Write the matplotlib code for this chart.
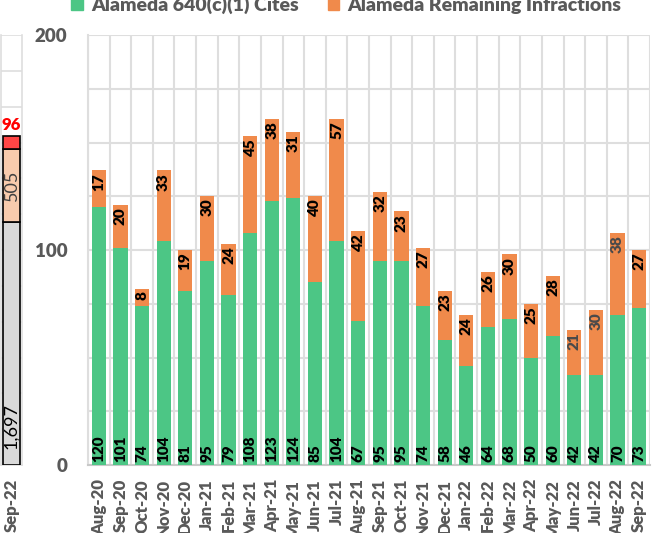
import matplotlib.pyplot as plt
import numpy as np
from matplotlib.patches import Patch

plt.rcParams['font.family'] = ['Lato', 'DejaVu Sans']
plt.rcParams['font.weight'] = 'bold'

months = ['Aug-20', 'Sep-20', 'Oct-20', 'Nov-20', 'Dec-20', 'Jan-21', 'Feb-21',
          'Mar-21', 'Apr-21', 'May-21', 'Jun-21', 'Jul-21', 'Aug-21', 'Sep-21',
          'Oct-21', 'Nov-21', 'Dec-21', 'Jan-22', 'Feb-22', 'Mar-22', 'Apr-22',
          'May-22', 'Jun-22', 'Jul-22', 'Aug-22', 'Sep-22']
cites = [120, 101, 74, 104, 81, 95, 79, 108, 123, 124, 85, 104, 67, 95, 95,
         74, 58, 46, 64, 68, 50, 60, 42, 42, 70, 73]
remaining = [17, 20, 8, 33, 19, 30, 24, 45, 38, 31, 40, 57, 42, 32, 23, 27,
             23, 24, 26, 30, 25, 28, 21, 30, 38, 27]

# cumulative side bar (latest month)
side_month = 'Sep-22'
side_values = [1697, 505, 96]
side_labels = ['1,697', '505', '96']

GREEN = '#4CC685'
ORANGE = '#F08A4B'
GRID = '#DEDEDE'
TICK = '#595959'
W8 = 'heavy'

fig = plt.figure(figsize=(6.53, 5.33), dpi=100)
H = 533.0
W = 653.0
bottom = (H - 465) / H
height = 430 / H

# ---- main chart ----
ax = fig.add_axes([88 / W, bottom, 562 / W, height])
x = np.arange(len(months))
ax.bar(x, cites, width=0.66, color=GREEN, zorder=3)
ax.bar(x, remaining, width=0.66, bottom=cites, color=ORANGE, zorder=3)

ax.set_xlim(-0.5, len(months) - 0.5)
ax.set_ylim(0, 200)
ax.set_yticks(np.arange(0, 201, 25))
ax.set_yticklabels([str(v) if v % 100 == 0 else '' for v in range(0, 201, 25)],
                   fontsize=13.5, color=TICK, fontweight=W8)
ax.set_xticks(x)
ax.set_xticklabels(months, rotation=90, fontsize=12, color=TICK,
                   fontweight=W8, va='top')
ax.tick_params(axis='both', length=0)
ax.tick_params(axis='x', pad=10)
ax.tick_params(axis='y', pad=15)
ax.grid(axis='y', color=GRID, lw=1.5, zorder=0)
for b in np.arange(-0.5, len(months), 1.0):
    ax.axvline(b, color=GRID, lw=1.5, zorder=0)
for s in ['top', 'right']:
    ax.spines[s].set_visible(False)
ax.spines['left'].set_color(GRID)
ax.spines['left'].set_linewidth(1.5)
ax.spines['bottom'].set_color('#C8C8C8')
ax.spines['bottom'].set_linewidth(1.5)

gray_lbls = {'Jun-22', 'Jul-22', 'Aug-22'}
for i, (c, r) in enumerate(zip(cites, remaining)):
    ax.text(i, 1.5, str(c), rotation=90, ha='center', va='bottom',
            fontsize=11, fontweight=W8, color='black', zorder=4)
    col = '#4A4A4A' if months[i] in gray_lbls else 'black'
    ax.text(i, c + r - 1.2, str(r), rotation=90, ha='center', va='top',
            fontsize=11, fontweight=W8, color=col, zorder=4)

# ---- side panel ----
ax2 = fig.add_axes([1 / W, bottom, 21 / W, height])
side_colors = ['#D9D9D9', '#F8CBAD', '#FF4545']
base = 0
for v, col in zip(side_values, side_colors):
    ax2.bar(0, v, width=0.84, bottom=base, color=col, edgecolor='black',
            lw=1.2, zorder=3)
    base += v
ax2.set_xlim(-0.5, 0.5)
ax2.set_ylim(0, 3000)
ax2.set_yticks(np.arange(0, 3001, 250))
ax2.set_yticklabels([])
ax2.set_xticks([0])
ax2.set_xticklabels([side_month], rotation=90, fontsize=12, color=TICK,
                    fontweight=W8, va='top')
ax2.tick_params(axis='both', length=0)
ax2.tick_params(axis='x', pad=10)
ax2.grid(axis='y', color=GRID, lw=1.2, zorder=0)
for s in ax2.spines.values():
    s.set_color(GRID)
    s.set_linewidth(1.2)
ax2.spines['top'].set_visible(False)

ax2.text(0, 110, side_labels[0], rotation=90, ha='center', va='bottom',
         fontsize=13, color='black', fontweight='normal', zorder=4)
ax2.text(0, side_values[0] + side_values[1] / 2, side_labels[1], rotation=90,
         ha='center', va='center', fontsize=13, color='#404040',
         fontweight='normal', zorder=4)
ax2.text(0, sum(side_values) + 15, side_labels[2], ha='center', va='bottom',
         fontsize=12, color='#FF0000', fontweight=W8, zorder=4,
         clip_on=False)

# legend
handles = [Patch(color=GREEN, label='Alameda 640(c)(1) Cites'),
           Patch(color=ORANGE, label='Alameda Remaining Infractions')]
fig.legend(handles=handles, loc='center', bbox_to_anchor=(0.53, 1 - 5 / H),
           ncol=2, frameon=False, handlelength=0.6, handleheight=0.6,
           handletextpad=0.4, columnspacing=1.5,
           prop={'size': 14, 'weight': W8}, labelcolor=TICK)

fig.savefig('out.png', dpi=100)
